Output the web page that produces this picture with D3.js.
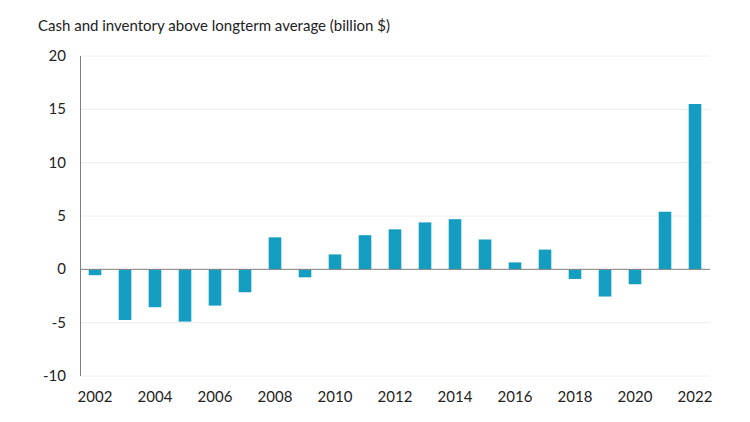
<!DOCTYPE html>
<html>
<head>
<meta charset="utf-8">
<script src="https://cdn.jsdelivr.net/npm/d3@7"></script>
<style>
  body { margin: 0; background: #fff; }
  text { font-family: Lato, "Open Sans", sans-serif; fill: #222; }
</style>
</head>
<body>
<svg id="chart" width="750" height="422"></svg>
<script>
var years = [2002, 2003, 2004, 2005, 2006, 2007, 2008, 2009, 2010, 2011, 2012,
  2013, 2014, 2015, 2016, 2017, 2018, 2019, 2020, 2021, 2022];
var values = [-0.55, -4.75, -3.55, -4.9, -3.4, -2.15, 3.0, -0.75, 1.4, 3.2, 3.75,
  4.4, 4.7, 2.8, 0.65, 1.85, -0.9, -2.55, -1.4, 5.4, 15.5];
var yTicks = [-10, -5, 0, 5, 10, 15, 20];
var xLabels = [2002, 2004, 2006, 2008, 2010, 2012, 2014, 2016, 2018, 2020, 2022];

var svg = d3.select("#chart");
var plotLeft = 80, plotRight = 710, plotTop = 56, plotBottom = 376;

var x = d3.scaleBand().domain(years).range([plotLeft, plotRight])
  .paddingInner(0.58).paddingOuter(0.29);
var y = d3.scaleLinear().domain([-10, 20]).range([plotBottom, plotTop]);

// title
svg.append("text")
  .attr("x", 38).attr("y", 31)
  .style("font-size", "15px")
  .text("Cash and inventory above longterm average (billion $)");

// gridlines
svg.append("g").selectAll("line")
  .data(yTicks.filter(function(d) { return d !== 0; }))
  .enter().append("line")
  .attr("x1", plotLeft).attr("x2", plotRight)
  .attr("y1", function(d) { return y(d); })
  .attr("y2", function(d) { return y(d); })
  .attr("stroke", "#ececec").attr("stroke-width", 1);

// y labels
svg.append("g").selectAll("text")
  .data(yTicks)
  .enter().append("text")
  .attr("x", 66)
  .attr("y", function(d) { return y(d) + 5; })
  .attr("text-anchor", "end")
  .style("font-size", "15px")
  .text(function(d) { return d; });

// bars
svg.append("g").selectAll("rect")
  .data(values)
  .enter().append("rect")
  .attr("x", function(d, i) { return x(years[i]); })
  .attr("width", x.bandwidth())
  .attr("y", function(d) { return y(Math.max(0, d)); })
  .attr("height", function(d) { return Math.abs(y(d) - y(0)); })
  .attr("fill", "#139ec1");

// zero line
svg.append("line")
  .attr("x1", plotLeft).attr("x2", plotRight)
  .attr("y1", y(0)).attr("y2", y(0))
  .attr("stroke", "#7f7f7f").attr("stroke-width", 1);

// y axis line
svg.append("line")
  .attr("x1", plotLeft + 0.5).attr("x2", plotLeft + 0.5)
  .attr("y1", plotTop).attr("y2", plotBottom)
  .attr("stroke", "#7f7f7f").attr("stroke-width", 1);

// x labels
svg.append("g").selectAll("text")
  .data(xLabels)
  .enter().append("text")
  .attr("x", function(d) { return x(d) + x.bandwidth() / 2; })
  .attr("y", 402)
  .attr("text-anchor", "middle")
  .style("font-size", "15px")
  .text(function(d) { return d; });
</script>
</body>
</html>
